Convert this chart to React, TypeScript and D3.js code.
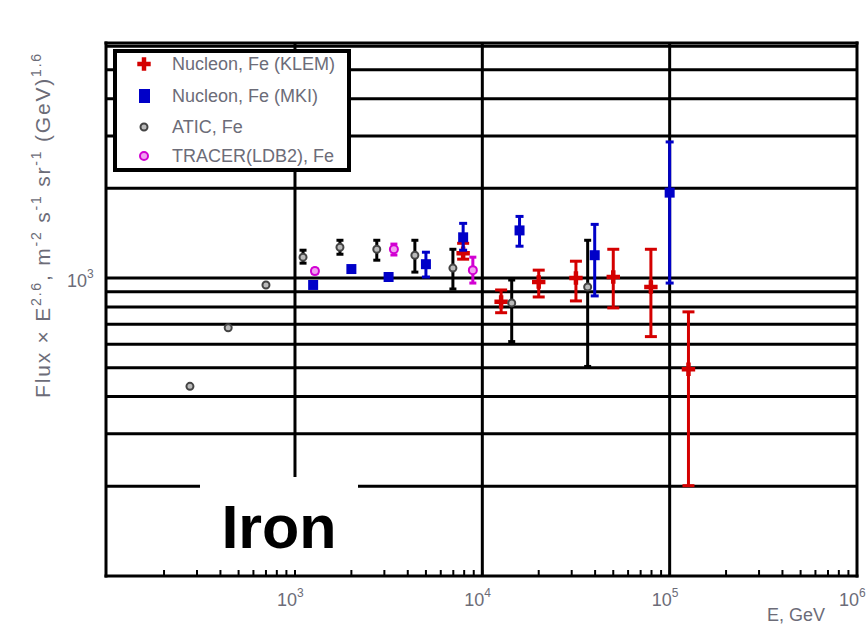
import React from "react";
import * as d3 from "d3";

const klemE = [7900, 12600, 20000, 31600, 50000, 79400, 126000];
const klemF = [1211, 832, 970, 1000, 1008, 933, 494];
const klemLo = [1157, 765, 864, 838, 794, 636, 201];
const klemHi = [1308, 912, 1063, 1139, 1249, 1249, 770];

const mkiE = [1250, 2000, 3160, 5000, 7900, 15800, 39800, 100000];
const mkiF = [948, 1072, 1008, 1113, 1370, 1445, 1193, 1935];
const mkiLo = [948, 1072, 1008, 1008, 1240, 1279, 871, 962];
const mkiHi = [948, 1072, 1008, 1221, 1526, 1610, 1514, 2863];

const aticE = [275, 440, 700, 1104, 1738, 2733, 4365, 6966, 14350, 36500];
const aticF = [433, 681, 948, 1175, 1269, 1249, 1193, 1080, 825, 933];
const aticLo = [433, 681, 948, 1122, 1202, 1148, 1047, 919, 612, 505];
const aticHi = [433, 681, 948, 1240, 1339, 1339, 1339, 1249, 985, 1339];

const tracerE = [1278, 3373, 8900];
const tracerF = [1055, 1249, 1063];
const tracerLo = [1035, 1195, 962];
const tracerHi = [1075, 1300, 1175];

const xMajor = [1e3, 1e4, 1e5, 1e6];
const xMajorLabels = ["3", "4", "5", "6"];
const legendLabels = ["Nucleon, Fe (KLEM)", "Nucleon, Fe (MKI)", "ATIC, Fe", "TRACER(LDB2), Fe"];

const W = 868;
const H = 625;
const L = 106, R = 857, T = 43, B = 576;

const x = d3.scaleLog().domain([98, 1e6]).range([L, R]);
const y = d3.scaleLog().domain([100, 6150]).range([B, T]);

const RED = "#d40000";
const BLUE = "#0000c8";
const MAG = "#d200d2";
const TXT = "#6c6c78";
const FONT = "Liberation Sans, Arial, sans-serif";

function ErrBars({ E, lo, hi, color, cap, width }: any) {
  return (
    <g stroke={color} strokeWidth={width} fill="none">
      {E.map((e: number, i: number) => {
        if (lo[i] === hi[i]) return null;
        const cx = x(e);
        const y1 = y(hi[i]);
        const y2 = y(lo[i]);
        return (
          <g key={i}>
            <line x1={cx} x2={cx} y1={y1} y2={y2} />
            <line x1={cx - cap / 2} x2={cx + cap / 2} y1={y1} y2={y1} />
            <line x1={cx - cap / 2} x2={cx + cap / 2} y1={y2} y2={y2} />
          </g>
        );
      })}
    </g>
  );
}

const crossPath = d3.symbol().type(d3.symbolCross).size(100)() as string;
const squarePath = d3.symbol().type(d3.symbolSquare).size(100)() as string;

export default function App() {
  const yGrid = y.ticks().filter((v) => v > 100 && v < 6100);
  const xMinor = x.ticks().filter((v) => v > 100 && v < 1e6);

  return (
    <svg
      width={W}
      height={H}
      style={{ position: "absolute", left: 0, top: 0, background: "#fff" }}
      fontFamily={FONT}
    >
      <rect x={0} y={0} width={W} height={H} fill="#fff" />
      <g stroke="#000" strokeWidth={3}>
        {yGrid.map((v) => (
          <line key={v} x1={L} x2={R} y1={y(v)} y2={y(v)} />
        ))}
        <line x1={x(1e3)} x2={x(1e3)} y1={T} y2={477} />
        <line x1={x(1e4)} x2={x(1e4)} y1={T} y2={B} />
        <line x1={x(1e5)} x2={x(1e5)} y1={T} y2={B} />
      </g>
      <g stroke="#000" strokeWidth={2}>
        {xMinor.map((v) => (
          <line key={v} x1={x(v)} x2={x(v)} y1={B} y2={B - 6} />
        ))}
      </g>
      <rect x={200} y={478} width={158} height={92} fill="#fff" />
      <text x={279} y={548} textAnchor="middle" fontSize={61} fontWeight="bold" fill="#000">
        Iron
      </text>
      <g stroke="#000" strokeWidth={3} fill="none">
        <line x1={L} x2={L} y1={T - 1.5} y2={B + 1.5} />
        <line x1={L - 1.5} x2={R + 1.5} y1={B} y2={B} />
        <line x1={L - 1.5} x2={R + 1.5} y1={T} y2={T} />
        <line x1={R} x2={R} y1={T - 1.5} y2={B + 1.5} />
      </g>

      <ErrBars E={klemE} lo={klemLo} hi={klemHi} color={RED} cap={12} width={3} />
      <g fill={RED}>
        {klemE.map((e, i) => (
          <path key={i} d={crossPath} transform={`translate(${x(e)},${y(klemF[i])})`} />
        ))}
      </g>
      <ErrBars E={mkiE} lo={mkiLo} hi={mkiHi} color={BLUE} cap={8} width={3} />
      <g fill={BLUE}>
        {mkiE.map((e, i) => (
          <path key={i} d={squarePath} transform={`translate(${x(e)},${y(mkiF[i])})`} />
        ))}
      </g>
      <ErrBars E={aticE} lo={aticLo} hi={aticHi} color="#000" cap={7} width={3} />
      <g fill="#bbb" stroke="#444" strokeWidth={2}>
        {aticE.map((e, i) => (
          <circle key={i} cx={x(e)} cy={y(aticF[i])} r={3.5} />
        ))}
      </g>
      <ErrBars E={tracerE} lo={tracerLo} hi={tracerHi} color={MAG} cap={7} width={3} />
      <g fill="#f0a0f0" stroke={MAG} strokeWidth={2}>
        {tracerE.map((e, i) => (
          <circle key={i} cx={x(e)} cy={y(tracerF[i])} r={4} />
        ))}
      </g>

      <rect x={115} y={51} width={234} height={119} fill="#fff" stroke="#000" strokeWidth={4} />
      <path d={crossPath} transform="translate(144,64)" fill={RED} />
      <rect x={139} y={89} width={11} height={14} fill={BLUE} />
      <circle cx={144} cy={127} r={3.5} fill="#bbb" stroke="#444" strokeWidth={2} />
      <circle cx={144} cy={156} r={4} fill="#f0a0f0" stroke={MAG} strokeWidth={2} />
      <g fontSize={18} fill={TXT}>
        {legendLabels.map((t, i) => (
          <text key={t} x={172} y={[70, 102, 133, 162][i]}>
            {t}
          </text>
        ))}
      </g>

      <g fill={TXT}>
        {xMajor.map((v, i) => (
          <text key={v} x={x(v) - 18} y={606} fontSize={18}>
            10
            <tspan dy={-9} fontSize={12}>
              {xMajorLabels[i]}
            </tspan>
          </text>
        ))}
      </g>
      <text x={67} y={287} fontSize={18} fill={TXT}>
        10
        <tspan dy={-9} fontSize={12}>
          3
        </tspan>
      </text>
      <text x={767} y={621} fontSize={18} fill={TXT}>
        E, GeV
      </text>
      <text
        transform="translate(50,225) rotate(-90)"
        textAnchor="middle"
        fontSize={21}
        letterSpacing={1.8}
        fill={TXT}
      >
        Flux × E<tspan dy={-9} fontSize={14}>2.6</tspan>
        <tspan dy={9}>, m</tspan>
        <tspan dy={-9} fontSize={14}>-2</tspan>
        <tspan dy={9}> s</tspan>
        <tspan dy={-9} fontSize={14}>-1</tspan>
        <tspan dy={9}> sr</tspan>
        <tspan dy={-9} fontSize={14}>-1</tspan>
        <tspan dy={9}> (GeV)</tspan>
        <tspan dy={-9} fontSize={14}>1.6</tspan>
      </text>
    </svg>
  );
}
